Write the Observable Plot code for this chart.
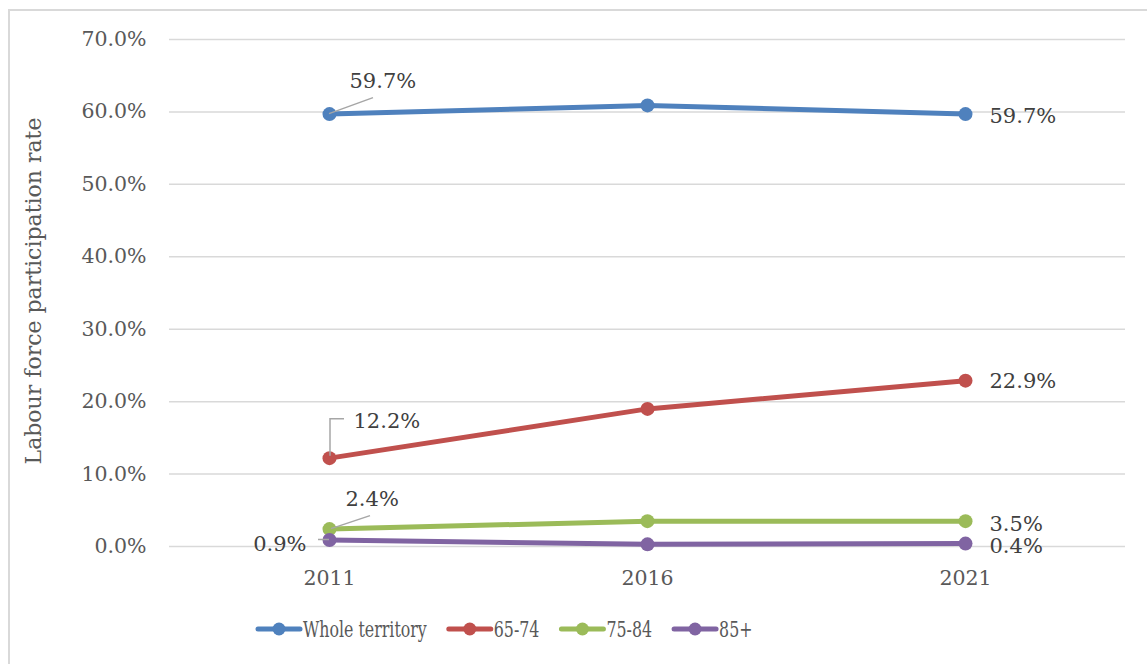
<!DOCTYPE html>
<html>
<head>
<meta charset="utf-8">
<script src="https://cdn.jsdelivr.net/npm/d3@7"></script>
<script src="https://cdn.jsdelivr.net/npm/@observablehq/plot@0.6"></script>
<style>
  html, body { margin: 0; padding: 0; background: #fff; overflow: hidden; }
  #chart { position: relative; width: 1147px; height: 664px; overflow: hidden; font-family: "DejaVu Serif", serif; }
  #frame { position: absolute; left: 8px; top: 9px; width: 1200px; height: 700px;
           border-top: 2px solid #d9d9d9; border-left: 2px solid #d9d9d9; }
  #plot { position: absolute; left: 0; top: 0; }
  #ytitle { position: absolute; left: 33px; top: 291px; transform: translate(-50%, -50%) rotate(-90deg);
            white-space: nowrap; font-size: 22px; color: #595959; }
  #legend { position: absolute; left: 0; top: 600px; }
</style>
</head>
<body>
<div id="chart">
  <div id="frame"></div>
  <div id="plot"></div>
  <div id="ytitle">Labour force participation rate</div>
  <div id="legend"></div>
</div>
<script>
// Census years on the x axis
const years = ["2011", "2016", "2021"];

// Labour force participation rate (%) per group
const seriesNames = ["Whole territory", "65-74", "75-84", "85+"];
const wholeTerritory = [59.7, 60.9, 59.7];
const age65to74 = [12.2, 19.0, 22.9];
const age75to84 = [2.4, 3.5, 3.5];
const age85plus = [0.9, 0.3, 0.4];
const seriesValues = [wholeTerritory, age65to74, age75to84, age85plus];
const seriesColors = ["#4f81bd", "#c0504d", "#9bbb59", "#8064a2"];

// y axis ticks (%)
const yTicks = [0, 10, 20, 30, 40, 50, 60, 70];

// Points that carry a value label
const labelledYears = ["2011", "2021"];

// Long table for Plot
const rows = seriesNames.flatMap((s, i) =>
  years.map((year, j) => ({series: s, year, value: seriesValues[i][j]}))
);
const labelRows = rows.filter(d => labelledYears.includes(d.year));

// Label placement (pixel offsets from the point) and leader lines
const labelStyle = {
  "Whole territory|2011": {anchor: "start", dx: 20, dy: -33, leader: [[0, 0], [44, -16]]},
  "Whole territory|2021": {anchor: "start", dx: 24, dy: 2},
  "65-74|2011": {anchor: "start", dx: 24, dy: -37, leader: [[1, -2], [1, -39], [15, -39]]},
  "65-74|2021": {anchor: "start", dx: 24, dy: 1},
  "75-84|2011": {anchor: "start", dx: 16, dy: -30, leader: [[2, 0], [41, -13]]},
  "75-84|2021": {anchor: "start", dx: 24, dy: 3},
  "85+|2011": {anchor: "end", dx: -23, dy: 4, leader: [[-11, 0], [0, 0]]},
  "85+|2021": {anchor: "start", dx: 24, dy: 3}
};
const key = d => `${d.series}|${d.year}`;
const fmt = v => v.toFixed(1) + "%";

// Leader lines drawn in screen space from each labelled point
const leaderMark = (index, scales) => {
  const g = d3.create("svg:g")
    .attr("fill", "none")
    .attr("stroke", "#a6a6a6")
    .attr("stroke-width", 1.5);
  for (const d of labelRows) {
    const st = labelStyle[key(d)];
    if (!st || !st.leader) continue;
    const px = scales.x(d.year), py = scales.y(d.value);
    g.append("path").attr("d", d3.line()(st.leader.map(([ox, oy]) => [px + ox, py + oy])));
  }
  return g.node();
};

const seriesMarks = seriesNames.flatMap((s, i) => {
  const data = rows.filter(d => d.series === s);
  return [
    Plot.line(data, {x: "year", y: "value", stroke: seriesColors[i], strokeWidth: 5, strokeLinecap: "round", strokeLinejoin: "round"}),
    Plot.dot(data, {x: "year", y: "value", fill: seriesColors[i], r: 7, stroke: "none"})
  ];
});

const labelMarks = labelRows.map(d => {
  const st = labelStyle[key(d)];
  return Plot.text([d], {
    x: "year", y: "value", text: r => fmt(r.value),
    textAnchor: st.anchor, dx: st.dx, dy: st.dy,
    fill: "#404040", fontSize: 21
  });
});

const plot = Plot.plot({
  width: 1147,
  height: 600,
  marginLeft: 169,
  marginRight: 22,
  marginTop: 39,
  marginBottom: 54,
  style: {fontFamily: "DejaVu Serif", fontSize: "20.5px", color: "#595959", background: "transparent", overflow: "visible"},
  x: {type: "point", domain: years, padding: 0.5, tickSize: 0, tickPadding: 24, label: null},
  y: {domain: [0, 70], ticks: yTicks, tickSize: 0, tickPadding: 23, tickFormat: fmt, label: null},
  marks: [
    Plot.ruleY(yTicks, {stroke: "#d9d9d9", strokeWidth: 1.5}),
    ...seriesMarks,
    leaderMark,
    ...labelMarks
  ]
});
document.getElementById("plot").appendChild(plot);

// Legend below the plot
const legend = d3.select("#legend").append("svg").attr("width", 1147).attr("height", 64);
let lx = 258;
const ly = 29;
seriesNames.forEach((s, i) => {
  const g = legend.append("g");
  g.append("line").attr("x1", lx).attr("x2", lx + 42).attr("y1", ly).attr("y2", ly)
    .attr("stroke", seriesColors[i]).attr("stroke-width", 5).attr("stroke-linecap", "round");
  g.append("circle").attr("cx", lx + 21).attr("cy", ly).attr("r", 6.5).attr("fill", seriesColors[i]);
  const tx = lx + 45;
  const t = g.append("text")
    .attr("transform", `translate(${tx},${ly}) scale(0.72,1)`)
    .attr("dy", "0.35em")
    .attr("fill", "#595959")
    .attr("font-family", "DejaVu Serif")
    .attr("font-size", 22)
    .text(s);
  const w = t.node().getComputedTextLength() * 0.72;
  lx = tx + w + 22;
});
</script>
</body>
</html>
